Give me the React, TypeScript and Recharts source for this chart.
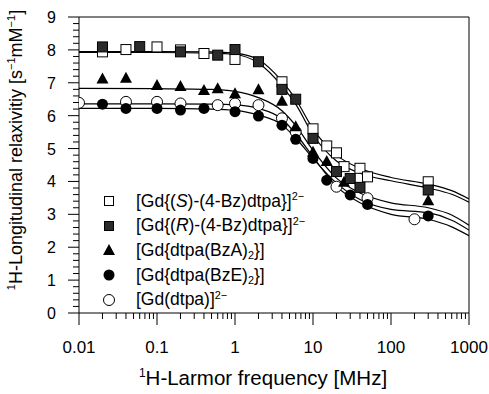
import React from 'react';
import { ComposedChart, XAxis, YAxis, Scatter, Line, ReferenceLine, Legend, Label } from 'recharts';

// measured points, frequency in MHz, relaxivity in s-1 mM-1
const sFreq = [0.02, 0.04, 0.1, 0.2, 0.4, 1, 4, 10, 15, 20, 25, 40, 50, 300];
const sRelax = [7.94, 8.01, 8.09, 8.0, 7.89, 7.71, 7.03, 5.6, 5.08, 4.87, 4.45, 4.4, 4.14, 3.99];

const rFreq = [0.02, 0.06, 0.2, 0.6, 1, 2, 4, 6, 10, 20, 30, 40, 300];
const rRelax = [8.09, 8.1, 7.94, 7.84, 8.01, 7.64, 6.8, 6.5, 5.31, 4.3, 4.09, 3.82, 3.74];

const aFreq = [0.02, 0.04, 0.1, 0.2, 0.4, 0.6, 1, 2, 4, 6, 10, 15, 25, 300];
const aRelax = [7.13, 7.15, 6.93, 6.9, 6.78, 6.83, 6.68, 6.8, 6.45, 5.68, 4.9, 4.62, 3.99, 3.43];

const eFreq = [0.02, 0.04, 0.1, 0.2, 0.4, 1, 2, 4, 6, 10, 15, 30, 50, 300];
const eRelax = [6.35, 6.22, 6.22, 6.17, 6.22, 6.12, 5.99, 5.71, 5.28, 4.7, 4.04, 3.59, 3.3, 2.95];

const dFreq = [0.01, 0.04, 0.1, 0.2, 0.6, 1, 2, 4, 6, 20, 50, 200];
const dRelax = [6.39, 6.42, 6.42, 6.37, 6.32, 6.37, 6.32, 5.92, 5.51, 3.84, 3.49, 2.85];

// fitted curves
const fitFreq = [0.01, 0.1, 0.5, 1, 2, 4, 6, 10, 20, 40, 100, 300, 600, 1000];
const fitS = [7.95, 7.95, 7.94, 7.9, 7.7, 7.05, 6.5, 5.6, 4.8, 4.4, 4.12, 3.92, 3.72, 3.47];
const fitR = [7.92, 7.92, 7.9, 7.86, 7.6, 6.9, 6.35, 5.42, 4.62, 4.25, 4.02, 3.8, 3.61, 3.37];
const fitA = [6.83, 6.82, 6.8, 6.74, 6.55, 6.15, 5.7, 4.95, 4.1, 3.65, 3.35, 3.2, 2.98, 2.67];
const fitE = [6.22, 6.22, 6.2, 6.16, 6.02, 5.72, 5.32, 4.7, 3.95, 3.45, 3.15, 3.05, 2.82, 2.52];
const fitD = [6.36, 6.36, 6.35, 6.33, 6.22, 5.9, 5.45, 4.75, 3.85, 3.35, 3.0, 2.85, 2.62, 2.35];

const xMajor = [0.01, 0.1, 1, 10, 100, 1000];
const xLabels = ['0.01', '0.1', '1', '10', '100', '1000'];
const yMajor = [0, 1, 2, 3, 4, 5, 6, 7, 8, 9];

const xTicks = xMajor.flatMap((m, i) =>
  i < xMajor.length - 1 ? [1, 2, 3, 4, 5, 6, 7, 8, 9].map(k => (k === 1 ? m : k * m)) : [m]
);
const yTicks = yMajor.flatMap((m, i) =>
  i < yMajor.length - 1 ? [0, 1, 2, 3, 4].map(k => Math.round((m + k * 0.2) * 10) / 10) : [m]
);

const pts = (f: number[], v: number[]) => f.map((x, i) => ({ f: x, v: v[i] }));

const FONT = '"Liberation Sans", Arial, sans-serif';

const XTick = ({ x, y, payload }: any) => {
  const i = xMajor.indexOf(payload.value);
  return (
    <g transform={`translate(${x},${y})`}>
      <line x1={0} y1={0} x2={0} y2={i >= 0 ? 12 : 6} stroke="#000" />
      {i >= 0 && (
        <text x={0} y={40} textAnchor="middle" fontSize={17} fill="#000">
          {xLabels[i]}
        </text>
      )}
    </g>
  );
};

const YTick = ({ x, y, payload }: any) => {
  const major = Number.isInteger(payload.value);
  return (
    <g transform={`translate(${x},${y})`}>
      <line x1={0} y1={0} x2={major ? -11 : -6} y2={0} stroke="#000" />
      {major && (
        <text x={-23} y={6} textAnchor="end" fontSize={16} fill="#000">
          {payload.value}
        </text>
      )}
    </g>
  );
};

const XTitle = () => (
  <text x={263} y={385} textAnchor="middle" fontSize={20.5} fill="#000">
    <tspan dy={-8} fontSize={12}>1</tspan>
    <tspan dy={8}>H-Larmor frequency [MHz]</tspan>
  </text>
);

const YTitle = () => (
  <text transform="translate(22,150) rotate(-90)" textAnchor="middle" fontSize={18} fill="#000">
    <tspan dy={-7} fontSize={11}>1</tspan>
    <tspan dy={7}>H-Longitudinal relaxivitiy [s</tspan>
    <tspan dy={-7} fontSize={11}>−1</tspan>
    <tspan dy={7}>mM</tspan>
    <tspan dy={-7} fontSize={11}>−1</tspan>
    <tspan dy={7}>]</tspan>
  </text>
);

const OpenSquare = ({ cx, cy }: any) => (
  <rect x={cx - 5} y={cy - 5} width={10} height={10} fill="#fff" stroke="#000" strokeWidth={1} />
);
const FilledSquare = ({ cx, cy }: any) => (
  <rect x={cx - 5} y={cy - 5} width={10} height={10} fill="#2b2b2b" stroke="#000" strokeWidth={1} />
);
const Triangle = ({ cx, cy }: any) => (
  <path d={`M${cx},${cy - 6}L${cx + 6},${cy + 5}L${cx - 6},${cy + 5}Z`} fill="#000" />
);
const FilledCircle = ({ cx, cy }: any) => <circle cx={cx} cy={cy} r={5.5} fill="#000" />;
const OpenCircle = ({ cx, cy }: any) => (
  <circle cx={cx} cy={cy} r={5.5} fill="#fff" stroke="#000" strokeWidth={1} />
);

const sup = { fontSize: '0.62em', position: 'relative' as const, top: '-0.6em' };
const sub = { fontSize: '0.62em', position: 'relative' as const, top: '0.3em' };

const legendRows = [
  {
    icon: <rect x={4.5} y={7.5} width={9} height={9} fill="#fff" stroke="#000" />,
    label: <>[Gd{'{'}(<i>S</i>)-(4-Bz)dtpa{'}'}]<span style={sup}>2−</span></>,
  },
  {
    icon: <rect x={4.5} y={7.5} width={9} height={9} fill="#2b2b2b" stroke="#000" />,
    label: <>[Gd{'{'}(<i>R</i>)-(4-Bz)dtpa{'}'}]<span style={sup}>2−</span></>,
  },
  {
    icon: <path d="M9,6L15,17L3,17Z" fill="#000" />,
    label: <>[Gd{'{'}dtpa(BzA)<span style={sub}>2</span>{'}'}]</>,
  },
  {
    icon: <circle cx={9} cy={12} r={5.5} fill="#000" />,
    label: <>[Gd{'{'}dtpa(BzE)<span style={sub}>2</span>{'}'}]</>,
  },
  {
    icon: <circle cx={9} cy={12} r={5.5} fill="#fff" stroke="#000" />,
    label: <>[Gd(dtpa)]<span style={sup}>2−</span></>,
  },
];

const LegendBox = () => (
  <div style={{ fontFamily: FONT, fontSize: 17.5, color: '#000' }}>
    {legendRows.map((r, i) => (
      <div key={i} style={{ height: 24.6, display: 'flex', alignItems: 'center', whiteSpace: 'nowrap' }}>
        <svg width={18} height={24} style={{ flex: 'none' }}>{r.icon}</svg>
        <span style={{ marginLeft: 18 }}>{r.label}</span>
      </div>
    ))}
  </div>
);

export default function App() {
  return (
    <div style={{ position: 'absolute', left: 0, top: 0, fontFamily: FONT, background: '#fff' }}>
      <ComposedChart width={489} height={394} margin={{ top: 17, right: 20, bottom: 0, left: 0 }}>
        <XAxis
          dataKey="f"
          type="number"
          scale="log"
          domain={[0.01, 1000]}
          allowDataOverflow
          ticks={xTicks}
          interval={0}
          tick={XTick}
          tickLine={false}
          tickSize={0}
          tickMargin={0}
          height={81}
          axisLine={{ stroke: '#000' }}
        >
          <Label content={XTitle} />
        </XAxis>
        <YAxis
          dataKey="v"
          type="number"
          domain={[0, 9]}
          allowDataOverflow
          ticks={yTicks}
          interval={0}
          tick={YTick}
          tickLine={false}
          tickSize={0}
          tickMargin={0}
          width={79}
          axisLine={{ stroke: '#000' }}
        >
          <Label content={YTitle} />
        </YAxis>
        <ReferenceLine y={9} stroke="#000" />
        <ReferenceLine x={1000} stroke="#000" />

        <Line data={pts(fitFreq, fitS)} dataKey="v" type="monotone" dot={false} stroke="#000" strokeWidth={1.2} isAnimationActive={false} />
        <Line data={pts(fitFreq, fitR)} dataKey="v" type="monotone" dot={false} stroke="#000" strokeWidth={1.2} isAnimationActive={false} />
        <Line data={pts(fitFreq, fitA)} dataKey="v" type="monotone" dot={false} stroke="#000" strokeWidth={1.2} isAnimationActive={false} />
        <Line data={pts(fitFreq, fitE)} dataKey="v" type="monotone" dot={false} stroke="#000" strokeWidth={1.2} isAnimationActive={false} />
        <Line data={pts(fitFreq, fitD)} dataKey="v" type="monotone" dot={false} stroke="#000" strokeWidth={1.2} isAnimationActive={false} />

        <Scatter data={pts(dFreq, dRelax)} shape={OpenCircle} isAnimationActive={false} />
        <Scatter data={pts(eFreq, eRelax)} shape={FilledCircle} isAnimationActive={false} />
        <Scatter data={pts(aFreq, aRelax)} shape={Triangle} isAnimationActive={false} />
        <Scatter data={pts(sFreq, sRelax)} shape={OpenSquare} isAnimationActive={false} />
        <Scatter data={pts(rFreq, rRelax)} shape={FilledSquare} isAnimationActive={false} />

        <Legend
          layout="vertical"
          align="center"
          verticalAlign="middle"
          content={() => <LegendBox />}
          wrapperStyle={{ left: 100, top: 189, width: 320 }}
        />
      </ComposedChart>
    </div>
  );
}
